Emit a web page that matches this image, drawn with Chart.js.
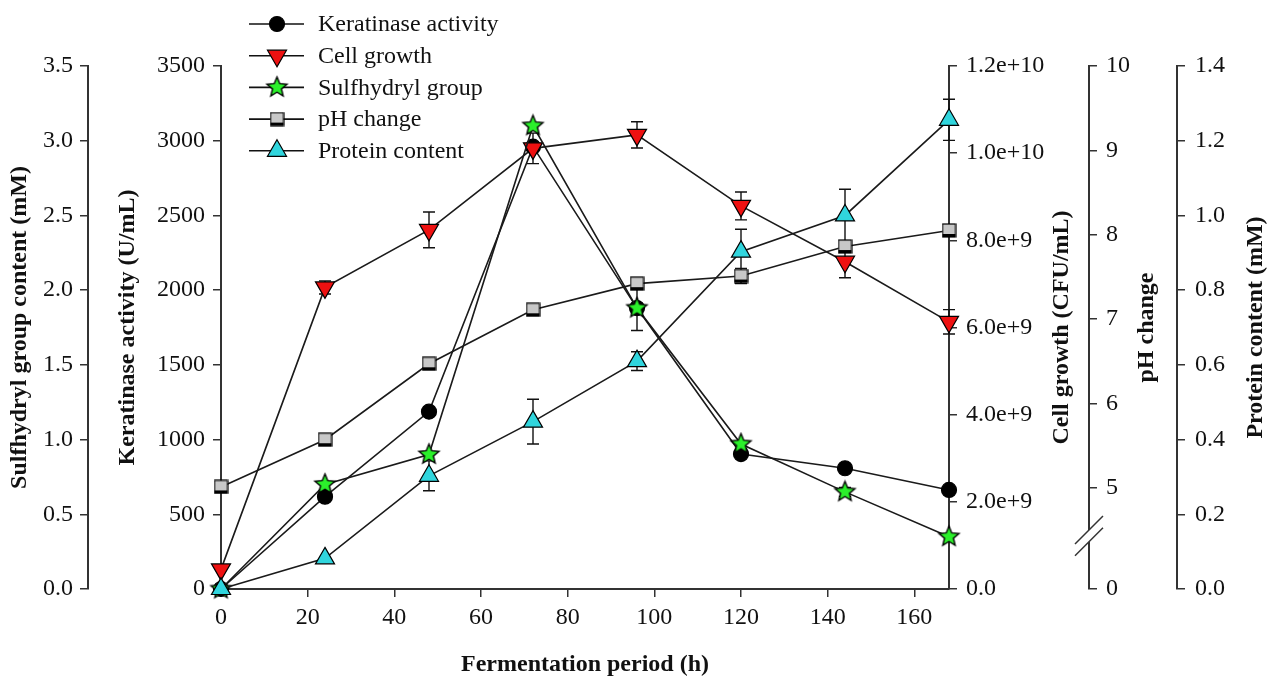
<!DOCTYPE html>
<html>
<head>
<meta charset="utf-8">
<title>Fermentation period</title>
<script src="https://cdn.jsdelivr.net/npm/chart.js@4.4.1/dist/chart.umd.min.js"></script>
<style>
  html, body { margin: 0; padding: 0; background: #fff; }
</style>
</head>
<body>
<canvas id="grafico" width="1268" height="683"></canvas>
<script>
// Datos
const horas = [0, 24, 48, 72, 96, 120, 144, 168];
const queratinasa = [0, 618, 1187, 2960, 1880, 903, 808, 663];
const queratinasaErr = [0, 0, 0, 0, 150, 0, 0, 0];
const crecimiento = [4.5e8, 6.92e9, 8.24e9, 1.011e10, 1.042e10, 8.79e9, 7.51e9, 6.13e9];
const crecimientoErr = [0, 1.5e8, 4.1e8, 3.5e8, 3.0e8, 3.2e8, 3.7e8, 2.8e8];
const sulfhidrilo = [0, 0.70, 0.90, 3.10, 1.88, 0.97, 0.65, 0.35];
const sulfhidriloErr = [0, 0, 0, 0, 0, 0, 0.03, 0];
const ph = [5.01, 5.57, 6.47, 7.11, 7.42, 7.51, 7.86, 8.05];
const phErr = [0, 0, 0, 0, 0, 0.09, 0, 0];
const proteina = [0, 0.082, 0.303, 0.448, 0.61, 0.903, 1.0, 1.256];
const proteinaErr = [0, 0, 0.04, 0.06, 0.025, 0.06, 0.07, 0.055];

// Marcas de los ejes
const ticksX = [0, 20, 40, 60, 80, 100, 120, 140, 160];
const ticksQueratinasa = [0, 500, 1000, 1500, 2000, 2500, 3000, 3500];
const ticksSulfhidrilo = [0, 0.5, 1.0, 1.5, 2.0, 2.5, 3.0, 3.5];
const ticksCrecimiento = [0, 2e9, 4e9, 6e9, 8e9, 1e10, 1.2e10];
const ticksPh = [5, 6, 7, 8, 9, 10];
const ticksProteina = [0, 0.2, 0.4, 0.6, 0.8, 1.0, 1.2, 1.4];
const PH_CERO = 3.8; // el eje de pH está cortado: aquí va el "0"

const fuente = '"Liberation Serif", "Times New Roman", serif';

function puntos(valores) {
  return horas.map((h, i) => ({ x: h, y: valores[i] }));
}

// Estrella de 5 puntas (Chart.js no trae una rellena)
function crearEstrella(radio, color) {
  const c = document.createElement('canvas');
  const s = Math.ceil(radio * 2 + 4);
  c.width = s; c.height = s;
  const g = c.getContext('2d');
  g.beginPath();
  for (let i = 0; i < 10; i++) {
    const r = i % 2 === 0 ? radio : radio * 0.45;
    const a = -Math.PI / 2 + i * Math.PI / 5;
    const px = s / 2 + r * Math.cos(a), py = s / 2 + r * Math.sin(a);
    if (i === 0) g.moveTo(px, py); else g.lineTo(px, py);
  }
  g.closePath();
  g.fillStyle = color; g.fill();
  g.lineWidth = 1.4; g.strokeStyle = '#000'; g.stroke();
  return c;
}

// Cuadrado gris con el borde de abajo grueso, como en el original
function crearCuadrado(lado, color) {
  const c = document.createElement('canvas');
  c.width = lado + 2; c.height = lado + 2;
  const g = c.getContext('2d');
  g.fillStyle = color;
  g.fillRect(1, 1, lado, lado);
  g.lineWidth = 1.2; g.strokeStyle = '#000';
  g.strokeRect(1, 1, lado, lado);
  g.fillStyle = '#000';
  g.fillRect(1, lado - 2, lado, 3);
  return c;
}

const estrella = crearEstrella(10.5, '#2bf02b');
const cuadrado = crearCuadrado(13, '#c8c8c8');

function eje(posicion, peso, ancho, min, max, marcas, formato, padding) {
  return {
    type: 'linear',
    position: posicion,
    weight: peso,
    min: min,
    max: max,
    afterBuildTicks: (e) => { e.ticks = marcas.map(v => ({ value: v })); },
    afterFit: (e) => { e.width = ancho; },
    grid: { drawOnChartArea: false, drawTicks: true, tickLength: 8, color: '#333', lineWidth: 1.5 },
    border: { display: true, color: '#333', width: 2 },
    ticks: {
      padding: padding,
      color: '#111',
      font: { family: fuente, size: 24 },
      callback: formato
    }
  };
}

const barrasError = {
  id: 'barrasError',
  beforeDatasetsDraw(chart) {
    const ctx = chart.ctx;
    const ejeX = chart.scales.x;
    ctx.save();
    ctx.strokeStyle = '#111';
    ctx.lineWidth = 1.4;
    chart.data.datasets.forEach((ds) => {
      const ejeY = chart.scales[ds.yAxisID];
      ds.data.forEach((p, j) => {
        const e = ds.errores[j];
        if (!e) return;
        const x = ejeX.getPixelForValue(p.x);
        const y1 = ejeY.getPixelForValue(p.y + e);
        const y2 = ejeY.getPixelForValue(p.y - e);
        ctx.beginPath();
        ctx.moveTo(x, y1); ctx.lineTo(x, y2);
        ctx.moveTo(x - 6, y1); ctx.lineTo(x + 6, y1);
        ctx.moveTo(x - 6, y2); ctx.lineTo(x + 6, y2);
        ctx.stroke();
      });
    });
    ctx.restore();
  }
};

const extras = {
  id: 'extras',
  afterDraw(chart) {
    const ctx = chart.ctx;
    ctx.save();

    // títulos de los ejes derechos (leídos de abajo hacia arriba)
    const titulos = { yC: ['Cell growth (CFU/mL)', 27], yP: ['pH change', 30], yPr: ['Protein content (mM)', 12] };
    ctx.font = 'bold 24px ' + fuente;
    ctx.fillStyle = '#111';
    ctx.textAlign = 'center';
    ctx.textBaseline = 'middle';
    Object.keys(titulos).forEach((id) => {
      const s = chart.scales[id];
      ctx.save();
      ctx.translate(s.right - titulos[id][1], (s.top + s.bottom) / 2);
      ctx.rotate(-Math.PI / 2);
      ctx.fillText(titulos[id][0], 0, 0);
      ctx.restore();
    });

    // corte del eje de pH
    const sp = chart.scales.yP;
    const xc = sp.left;
    const ya = sp.getPixelForValue(4.36), yb = sp.getPixelForValue(4.5);
    const d = 14;
    ctx.fillStyle = '#fff';
    ctx.beginPath();
    ctx.moveTo(xc - d, ya + d); ctx.lineTo(xc + d, ya - d);
    ctx.lineTo(xc + d, yb - d); ctx.lineTo(xc - d, yb + d);
    ctx.closePath();
    ctx.fill();
    ctx.strokeStyle = '#333';
    ctx.lineWidth = 1.5;
    ctx.beginPath();
    ctx.moveTo(xc - d, ya + d); ctx.lineTo(xc + d, ya - d);
    ctx.moveTo(xc - d, yb + d); ctx.lineTo(xc + d, yb - d);
    ctx.stroke();

    // leyenda
    ctx.textAlign = 'left';
    ctx.font = '24px ' + fuente;
    chart.data.datasets.forEach((ds, i) => {
      const y = 24 + i * 31.7;
      ctx.strokeStyle = '#111';
      ctx.lineWidth = 1.6;
      ctx.beginPath(); ctx.moveTo(249, y); ctx.lineTo(304, y); ctx.stroke();
      ctx.fillStyle = ds.pointBackgroundColor;
      ctx.strokeStyle = '#000';
      ctx.lineWidth = ds.pointBorderWidth;
      Chart.helpers.drawPoint(ctx, {
        pointStyle: ds.pointStyle,
        radius: ds.pointRadius,
        rotation: ds.pointRotation || 0,
        borderWidth: ds.pointBorderWidth
      }, 277, y);
      ctx.fillStyle = '#111';
      ctx.fillText(ds.label, 318, y + 1);
    });
    ctx.restore();
  }
};

const lineaBase = { borderColor: '#1a1a1a', borderWidth: 1.6, tension: 0, clip: false, pointBorderColor: '#000', pointBorderWidth: 1.2 };

new Chart(document.getElementById('grafico'), {
  type: 'line',
  data: {
    datasets: [
      Object.assign({}, lineaBase, {
        label: 'Keratinase activity', data: puntos(queratinasa), errores: queratinasaErr,
        yAxisID: 'yK', order: 5,
        pointStyle: 'circle', pointRadius: 7.5, pointBackgroundColor: '#000'
      }),
      Object.assign({}, lineaBase, {
        label: 'Cell growth', data: puntos(crecimiento), errores: crecimientoErr,
        yAxisID: 'yC', order: 3,
        pointStyle: 'triangle', pointRotation: 180, pointRadius: 11, pointBackgroundColor: '#ee1111'
      }),
      Object.assign({}, lineaBase, {
        label: 'Sulfhydryl group', data: puntos(sulfhidrilo), errores: sulfhidriloErr,
        yAxisID: 'yS', order: 2,
        pointStyle: estrella, pointRadius: 10, pointBackgroundColor: '#2bf02b'
      }),
      Object.assign({}, lineaBase, {
        label: 'pH change', data: puntos(ph), errores: phErr,
        yAxisID: 'yP', order: 4,
        pointStyle: cuadrado, pointRadius: 8, pointBackgroundColor: '#c8c8c8'
      }),
      Object.assign({}, lineaBase, {
        label: 'Protein content', data: puntos(proteina), errores: proteinaErr,
        yAxisID: 'yPr', order: 1,
        pointStyle: 'triangle', pointRadius: 11, pointBackgroundColor: '#30d5dd'
      })
    ]
  },
  options: {
    responsive: false,
    animation: false,
    events: [],
    layout: { padding: { top: 66, left: 0, right: 0, bottom: 0 } },
    plugins: { legend: { display: false }, tooltip: { enabled: false } },
    scales: {
      x: {
        type: 'linear',
        min: 0,
        max: 168,
        afterBuildTicks: (e) => { e.ticks = ticksX.map(v => ({ value: v })); },
        afterFit: (e) => { e.height = 94; },
        grid: { drawOnChartArea: false, drawTicks: true, tickLength: 8, color: '#333', lineWidth: 1.5 },
        border: { display: true, color: '#333', width: 2 },
        ticks: { padding: 6, color: '#111', font: { family: fuente, size: 24 }, maxRotation: 0 },
        title: {
          display: true, text: 'Fermentation period (h)', color: '#111',
          font: { family: fuente, size: 24, weight: 'bold', lineHeight: 1 },
          padding: { top: 0, bottom: 6 }
        }
      },
      yK: Object.assign(eje('left', 0, 133, 0, 3500, ticksQueratinasa, v => v, 8), {
        title: {
          display: true, text: 'Keratinase activity (U/mL)', color: '#111',
          font: { family: fuente, size: 24, weight: 'bold', lineHeight: 1 },
          padding: { top: 28, bottom: 0 }
        }
      }),
      yS: Object.assign(eje('left', 1, 88, 0, 3.5, ticksSulfhidrilo, v => v.toFixed(1), 7), {
        title: {
          display: true, text: 'Sulfhydryl group content (mM)', color: '#111',
          font: { family: fuente, size: 24, weight: 'bold', lineHeight: 1 },
          padding: { top: 8, bottom: 0 }
        }
      }),
      yC: eje('right', 0, 140, 0, 1.2e10, ticksCrecimiento,
        v => (v === 0 ? '0.0' : v.toExponential(1)), 9),
      yP: eje('right', 1, 88, PH_CERO, 10, [PH_CERO].concat(ticksPh),
        v => (v === PH_CERO ? '0' : v), 9),
      yPr: eje('right', 2, 91, 0, 1.4, ticksProteina, v => v.toFixed(1), 10)
    }
  },
  plugins: [barrasError, extras]
});
</script>
</body>
</html>
